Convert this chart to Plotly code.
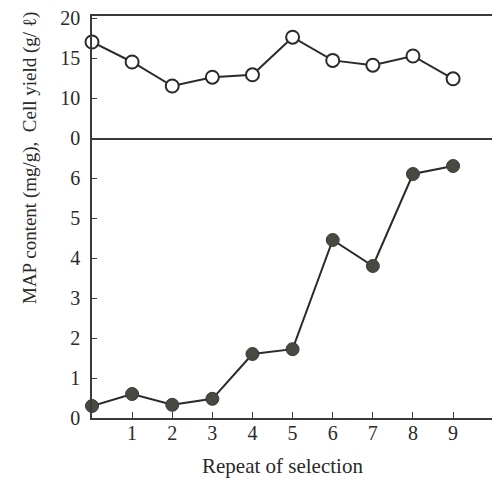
import plotly.graph_objects as go

# ---- data ----
selection = [0, 1, 2, 3, 4, 5, 6, 7, 8, 9]
cell_yield = [17.0, 14.5, 11.5, 12.6, 12.9, 17.6, 14.7, 14.1, 15.25, 12.4]
map_content = [0.3, 0.6, 0.33, 0.48, 1.6, 1.72, 4.45, 3.8, 6.1, 6.3]
x_tick_vals = [1, 2, 3, 4, 5, 6, 7, 8, 9]
upper_tick_vals = [5, 10, 15, 20]
upper_tick_text = ["0", "10", "15", "20"]
lower_tick_vals = [0, 1, 2, 3, 4, 5, 6]
y_title = "MAP content (mg/g),  Cell yield (g/ \u2113)"
x_title = "Repeat of selection"

FONT = "Liberation Serif"
INK = "#2a2a2a"
AX = "#3a3a3a"

split = 280 / 402

fig = go.Figure()
fig.add_trace(go.Scatter(
    x=selection, y=cell_yield, mode="lines+markers",
    xaxis="x2", yaxis="y2", cliponaxis=False,
    line=dict(color=INK, width=2),
    marker=dict(size=13, color="white", line=dict(color=INK, width=2)),
    showlegend=False))
fig.add_trace(go.Scatter(
    x=selection, y=map_content, mode="lines+markers",
    xaxis="x", yaxis="y", cliponaxis=False,
    line=dict(color=INK, width=2),
    marker=dict(size=13, color="#474a40", line=dict(color="#3a3c34", width=1)),
    showlegend=False))

common_y = dict(showgrid=False, zeroline=False, showline=True,
                linecolor=AX, linewidth=1.5, mirror=True, automargin=False,
                ticks="inside", ticklen=5, tickcolor=AX,
                tickfont=dict(family=FONT, size=20, color=INK),
                ticklabelstandoff=6, ticklabeloverflow="allow")

fig.update_layout(
    width=492, height=473,
    margin=dict(l=84, r=8, t=8, b=63),
    paper_bgcolor="white", plot_bgcolor="white",
    font=dict(family=FONT, color=INK),
    xaxis=dict(range=[0, 9.97], showgrid=False, zeroline=False,
               showline=True, linecolor=AX, linewidth=1.5, mirror=False,
               automargin=False, domain=[0, 1], anchor="y",
               tickvals=x_tick_vals, ticks="inside", ticklen=6,
               tickcolor=AX, tickfont=dict(family=FONT, size=20, color=INK),
               ticklabelstandoff=-4, ticklabeloverflow="allow"),
    yaxis=dict(**common_y, domain=[0, split], range=[0, 7],
               tickvals=lower_tick_vals, anchor="x"),
    xaxis2=dict(range=[0, 9.97], showgrid=False, zeroline=False,
                showline=True, linecolor=AX, linewidth=1.8, mirror=True,
                automargin=False, domain=[0, 1], anchor="y2",
                showticklabels=False, ticks=""),
    yaxis2=dict(**common_y, domain=[split, 1], range=[5, 20.25],
                tickvals=upper_tick_vals, ticktext=upper_tick_text,
                anchor="x2"),
    annotations=[
        dict(text=y_title, xref="paper", yref="paper",
             x=(30 - 92) / 400, y=(418 - 158) / 402, textangle=-90,
             showarrow=False, xanchor="center", yanchor="middle",
             font=dict(family=FONT, size=19, color=INK)),
        dict(text=x_title, xref="paper", yref="paper",
             x=(282 - 92) / 400, y=(418 - 466) / 402,
             showarrow=False, xanchor="center", yanchor="middle",
             font=dict(family=FONT, size=21, color=INK)),
    ],
)

fig.write_html("out.html")
